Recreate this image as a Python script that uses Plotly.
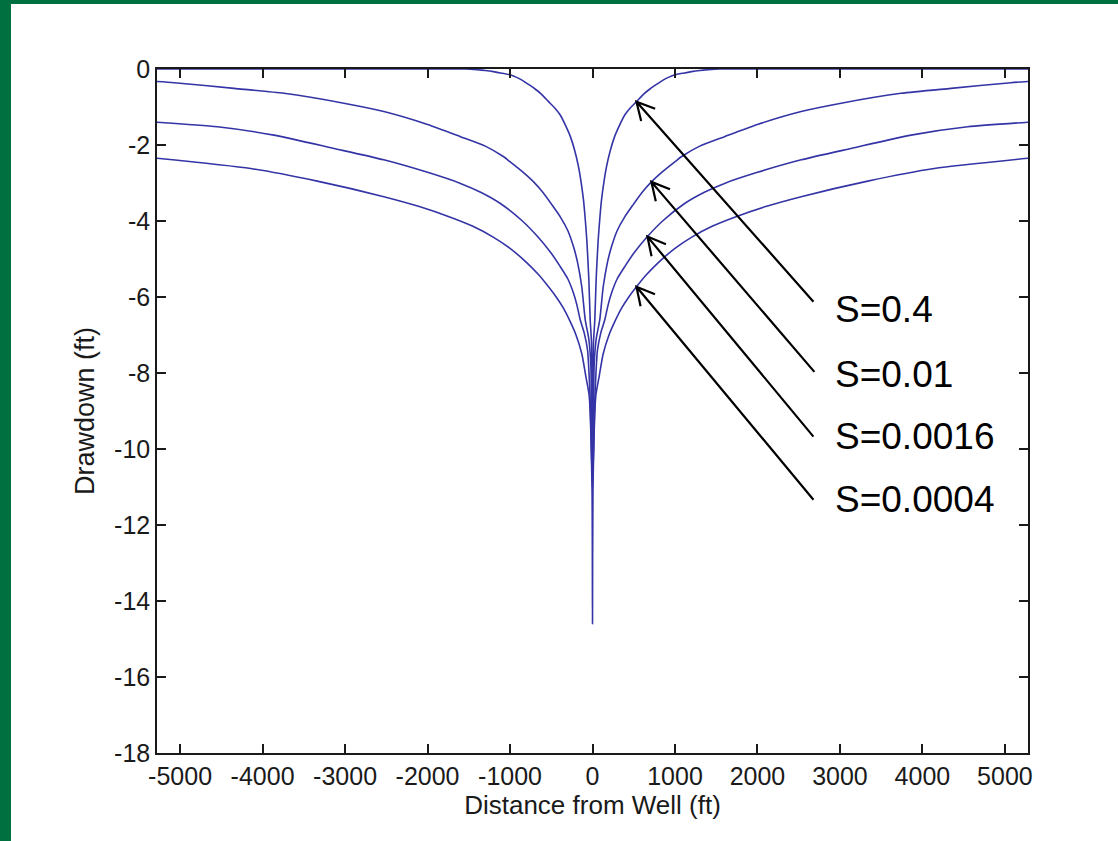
import math
import plotly.graph_objects as go

# ---------------- data ----------------
# distance from well (ft, one side) and drawdown (ft) for each storativity
r_s04 = [0, 12, 28, 45, 69, 90, 109, 140, 170, 215, 268, 330, 391, 460, 533, 620, 700, 780,
         850, 920, 993, 1100, 1200, 1300, 1400, 1540, 3000, 5280]
d_s04 = [-9.4, -7.2, -6.6, -5.5, -4.5, -3.9, -3.45, -2.95, -2.57, -2.15, -1.78, -1.47, -1.21,
         -1.02, -0.86, -0.66, -0.52, -0.40, -0.30, -0.22, -0.16, -0.11, -0.07, -0.04, -0.02, 0.0, 0.0, 0.0]

r_s01 = [0, 20, 45, 88, 130, 180, 230, 300, 391, 500, 600, 714, 850, 1000, 1077, 1300, 1601,
         2000, 2530, 3015, 3741, 4346, 5073, 5280]
d_s01 = [-11.0, -7.8, -7.1, -6.6, -5.73, -5.1, -4.68, -4.25, -3.89, -3.55, -3.25, -2.97, -2.70,
         -2.44, -2.31, -2.03, -1.78, -1.46, -1.12, -0.90, -0.64, -0.51, -0.36, -0.33]

r_s0016 = [0, 30, 60, 100, 149, 190, 230, 300, 391, 500, 666, 850, 1117, 1350, 1601, 2000,
           2530, 3136, 3862, 4548, 5280]
d_s0016 = [-11.0, -8.6, -7.4, -6.95, -6.6, -6.2, -5.90, -5.52, -5.20, -4.85, -4.41, -4.0,
           -3.54, -3.25, -3.01, -2.72, -2.39, -2.09, -1.74, -1.52, -1.40]

r_s0004 = [0, 6, 40, 80, 129, 200, 270, 351, 440, 533, 650, 795, 1000, 1199, 1450, 1723, 2100,
           2530, 3337, 4143, 5280]
d_s0004 = [-14.6, -11.0, -8.6, -8.1, -7.5, -7.0, -6.65, -6.3, -6.0, -5.73, -5.42, -5.1, -4.72,
           -4.43, -4.14, -3.90, -3.62, -3.36, -2.95, -2.62, -2.35]

labels = ["S=0.4", "S=0.01", "S=0.0016", "S=0.0004"]
tip_x = [533, 714, 666, 533]
tip_y = [-0.86, -2.97, -4.41, -5.73]
label_x = [2918, 2918, 2918, 2918]
label_y = [-6.32, -8.03, -9.68, -11.34]
tail_dx = [177, 163, 166, 177]   # pixels from tip to tail (right)
tail_dy = [200, 190, 200, 213]   # pixels from tip to tail (down)

x_ticks = [-5000, -4000, -3000, -2000, -1000, 0, 1000, 2000, 3000, 4000, 5000]
y_ticks = [0, -2, -4, -6, -8, -10, -12, -14, -16, -18]

# ---------------- figure ----------------
LINE = "#3434a6"
fig = go.Figure()


def mirrored(r, d):
    xs = [-v for v in reversed(r[1:])] + list(r)
    ys = list(reversed(d[1:])) + list(d)
    return xs, ys


for r, d in [(r_s04, d_s04), (r_s01, d_s01), (r_s0016, d_s0016), (r_s0004, d_s0004)]:
    xs, ys = mirrored(r, d)
    fig.add_trace(go.Scatter(x=xs, y=ys, mode="lines",
                             line=dict(color=LINE, width=1.6, shape="spline", smoothing=0.6),
                             showlegend=False, hoverinfo="skip"))

shapes = []
# green frame strips (left and top)
W, H = 1118, 841
ml, mr, mt, mb = 157, 90, 69, 88
pw, ph = W - ml - mr, H - mt - mb
GREEN = "#007040"
shapes.append(dict(type="rect", xref="paper", yref="paper",
                   x0=-ml / pw - 0.01, x1=(11 - ml) / pw, y0=-mb / ph - 0.01, y1=(H - mb) / ph + 0.01,
                   fillcolor=GREEN, line=dict(width=0), layer="below"))
shapes.append(dict(type="rect", xref="paper", yref="paper",
                   x0=-ml / pw - 0.01, x1=(W - ml) / pw + 0.01, y0=(H - mb - 4) / ph, y1=(H - mb) / ph + 0.01,
                   fillcolor=GREEN, line=dict(width=0), layer="below"))

# arrows with open V heads
HEAD_LEN, HEAD_ANG = 20, math.radians(28)
for tx, ty, dx, dy in zip(tip_x, tip_y, tail_dx, tail_dy):
    L = math.hypot(dx, dy)
    ux, uy = dx / L, dy / L
    arms = []
    for s in (1, -1):
        c, sn = math.cos(s * HEAD_ANG), math.sin(s * HEAD_ANG)
        ax = (ux * c - uy * sn) * HEAD_LEN
        ay = (ux * sn + uy * c) * HEAD_LEN
        arms.append((ax, ay))
    path = (f"M{dx:.1f},{-dy:.1f} L0,0 "
            f"M{arms[0][0]:.1f},{-arms[0][1]:.1f} L0,0 L{arms[1][0]:.1f},{-arms[1][1]:.1f}")
    shapes.append(dict(type="path", xref="x", yref="y", xsizemode="pixel", ysizemode="pixel",
                       xanchor=tx, yanchor=ty, path=path,
                       line=dict(color="black", width=2.2)))

annotations = []
for t, lx, ly in zip(labels, label_x, label_y):
    annotations.append(dict(x=lx, y=ly, xref="x", yref="y", text=t, showarrow=False,
                            xanchor="left", yanchor="middle",
                            font=dict(family="Liberation Sans, Arial", size=37, color="black")))

tick_font = dict(family="Liberation Sans, Arial", size=25, color="#1a1a1a")
fig.update_layout(
    width=W, height=H,
    margin=dict(l=ml, r=mr, t=mt, b=mb, pad=0),
    paper_bgcolor="white", plot_bgcolor="white",
    shapes=shapes, annotations=annotations,
    xaxis=dict(range=[-5280, 5280], tickvals=x_ticks, ticktext=[str(v) for v in x_ticks],
               showgrid=False, zeroline=False, showline=True, mirror="ticks",
               linecolor="#1a1a1a", linewidth=1.5, ticks="inside", ticklen=9, tickwidth=1.5,
               tickcolor="#1a1a1a", tickfont=tick_font,
               title=dict(text="Distance from Well (ft)",
                          font=dict(family="Liberation Sans, Arial", size=26, color="#1a1a1a"),
                          standoff=6)),
    yaxis=dict(range=[-18, 0], tickvals=y_ticks, ticktext=[str(v) for v in y_ticks],
               showgrid=False, zeroline=False, showline=True, mirror="ticks",
               linecolor="#1a1a1a", linewidth=1.5, ticks="inside", ticklen=9, tickwidth=1.5,
               tickcolor="#1a1a1a", tickfont=tick_font,
               title=dict(text="Drawdown (ft)",
                          font=dict(family="Liberation Sans, Arial", size=27, color="#1a1a1a"),
                          standoff=12)),
)

fig.write_html("out.html", config={"displayModeBar": False},
               post_script="document.body.style.margin='0';document.body.style.padding='0';")
